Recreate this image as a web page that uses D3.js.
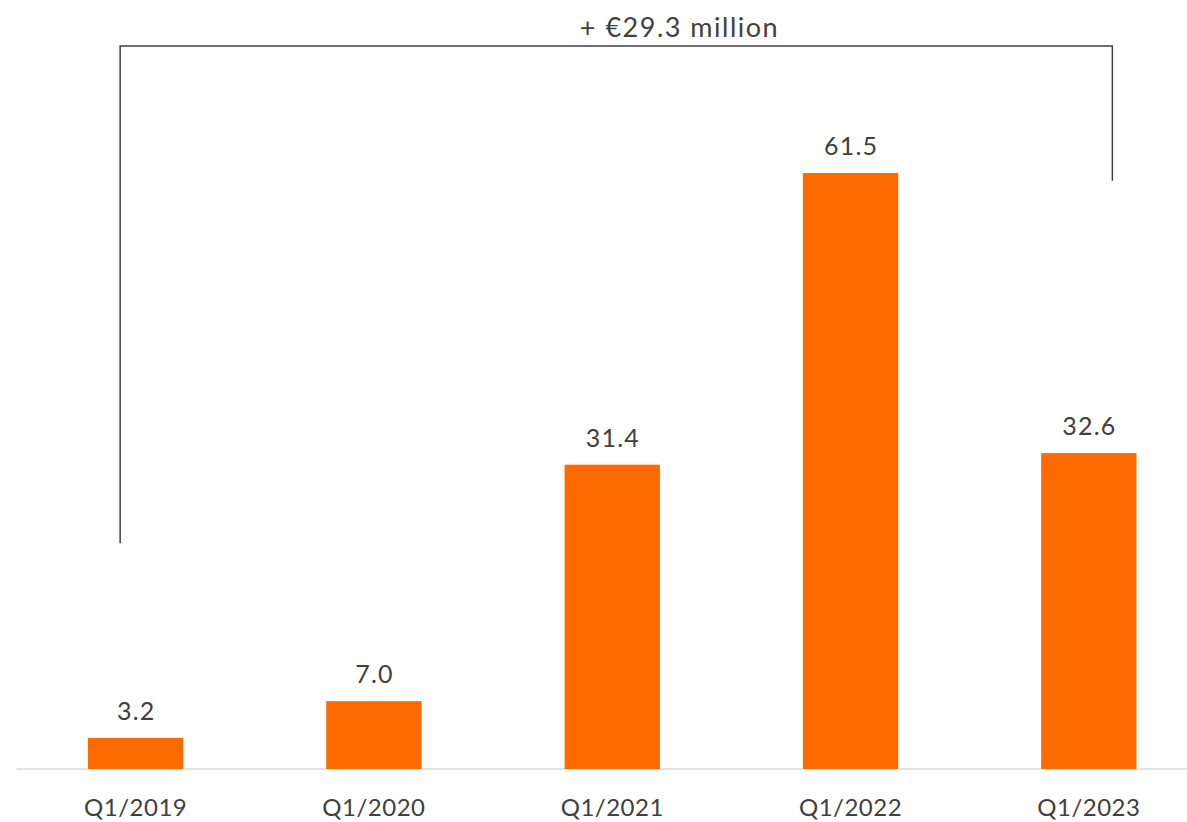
<!DOCTYPE html>
<html>
<head>
<meta charset="utf-8">
<script src="https://cdn.jsdelivr.net/npm/d3@7"></script>
<style>
  body { margin: 0; background: #fff; }
  svg text { font-family: Lato, "Open Sans", sans-serif; fill: #404040; }
</style>
</head>
<body>
<div id="chart"></div>
<script>
let categories = ['Q1/2019', 'Q1/2020', 'Q1/2021', 'Q1/2022', 'Q1/2023'];
let values = [3.2, 7.0, 31.4, 61.5, 32.6];
let bracketLabel = '+ €29.3 million';
// bracket ends, in data units (left leg bottom, right leg bottom, top bar)
let bracketLevels = [23.3, 60.7, 74.6];

let w = 1187, h = 822;
let svg = d3.select('#chart').append('svg').attr('width', w).attr('height', h);

let x = d3.scaleBand()
    .domain(categories)
    .range([16.5, 16.5 + 5 * 238.3])
    .paddingInner(0.6)
    .paddingOuter(0.3);
let y = d3.scaleLinear()
    .domain([0, 61.5])
    .range([769, 173]);

// baseline
svg.append('line')
    .attr('x1', 16.5).attr('x2', w)
    .attr('y1', y(0)).attr('y2', y(0))
    .attr('stroke', '#d9d9d9').attr('stroke-width', 1.5);

svg.selectAll('.bar').data(values).enter().append('rect')
    .classed('bar', true)
    .attr('x', (d, i) => x(categories[i]))
    .attr('width', x.bandwidth())
    .attr('y', d => y(d))
    .attr('height', d => y(0) - y(d))
    .attr('fill', '#ff6a00');

svg.selectAll('.val').data(values).enter().append('text')
    .classed('val', true)
    .attr('x', (d, i) => x(categories[i]) + x.bandwidth() / 2 + 0.6)
    .attr('y', d => y(d) - 18)
    .attr('text-anchor', 'middle')
    .style('font-size', '25px')
    .style('letter-spacing', '1.2px')
    .text(d => d.toFixed(1));

// category labels
let xAxis = d3.axisBottom(x).tickSize(0).tickPadding(0);
let gx = svg.append('g')
    .attr('transform', 'translate(0,' + y(0) + ')')
    .call(xAxis);
gx.select('.domain').remove();
gx.selectAll('text')
    .attr('dy', null)
    .attr('y', 47)
    .style('font-size', '24px')
    .style('letter-spacing', '0.5px')
    .style('font-family', 'Lato, "Open Sans", sans-serif')
    .attr('fill', '#595959');

// bracket
let lx = x(categories[0]) + x.bandwidth() / 2 - 15.5;
let rx = x(categories[4]) + x.bandwidth() / 2 + 23.5;
svg.append('path')
    .attr('d', 'M' + lx + ',' + y(bracketLevels[0]) +
               'V' + y(bracketLevels[2]) +
               'H' + rx +
               'V' + y(bracketLevels[1]))
    .attr('fill', 'none')
    .attr('stroke', '#404040')
    .attr('stroke-width', 1.5);

svg.append('text')
    .attr('x', 679.5)
    .attr('y', 37)
    .attr('text-anchor', 'middle')
    .style('font-size', '27px')
    .style('letter-spacing', '1.5px')
    .text(bracketLabel);
</script>
</body>
</html>
